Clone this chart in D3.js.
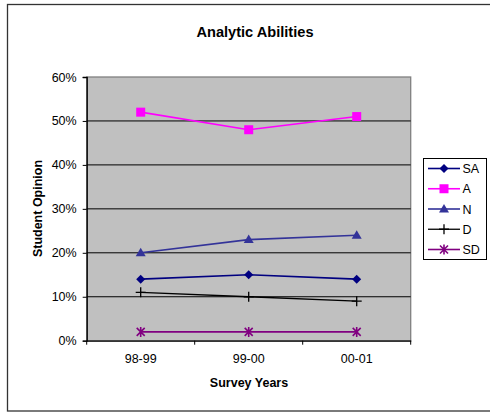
<!DOCTYPE html>
<html><head><meta charset="utf-8">
<script src="https://cdn.jsdelivr.net/npm/d3@7"></script>
<style>body{margin:0;background:#fff}svg{display:block}text{font-family:"Liberation Sans",Arial,sans-serif}</style>
</head><body><svg id="c" width="490" height="412"></svg>
<script>
const categories = ["98-99","99-00","00-01"];
const seriesNames = ["SA","A","N","D","SD"];
const SA = [14,15,14];
const A = [52,48,51];
const N = [20,23,24];
const D = [11,10,9];
const SD = [2,2,2];
const yTicks = [0,10,20,30,40,50,60];
const colors = {SA:"#000080",A:"#FF00FF",N:"#333399",D:"#000000",SD:"#800080"};
const values = {SA,A,N,D,SD};
const FS = 12.5;

const svg = d3.select("#c");
svg.append("rect").attr("x",7.5).attr("y",4.5).attr("width",495).attr("height",406.5)
  .attr("fill","#fff").attr("stroke","#333").attr("stroke-width",1.3);

const L=86.7,R=410.7,T=77,B=340.7;
const x = d3.scaleBand().domain(categories).range([L,R]);
const y = d3.scaleLinear().domain([0,60]).range([B,T]);

svg.append("rect").attr("x",L).attr("y",T).attr("width",R-L).attr("height",B-T)
  .attr("fill","#C0C0C0").attr("stroke","#808080").attr("stroke-width",1.3);

// gridlines
svg.append("g").selectAll("line").data(yTicks.filter(d=>d>0&&d<60)).join("line")
  .attr("x1",L).attr("x2",R).attr("y1",d=>y(d)).attr("y2",d=>y(d))
  .attr("stroke","#000").attr("stroke-width",1);

// y axis
const ya = svg.append("g").attr("transform",`translate(${L},0)`)
  .call(d3.axisLeft(y).tickValues(yTicks).tickFormat(d=>d+"%").tickSize(4).tickPadding(6));
ya.attr("font-size",null).attr("font-family",null);
ya.select(".domain").attr("stroke","#000").attr("stroke-width",1.3);
ya.selectAll("text").attr("font-size",FS).attr("fill","#000");

// x axis
const xa = svg.append("g").attr("transform",`translate(0,${B})`)
  .call(d3.axisBottom(x).tickSize(0).tickPadding(13));
xa.attr("font-size",null).attr("font-family",null);
xa.select(".domain").attr("stroke","#000").attr("stroke-width",1.3);
xa.selectAll("text").attr("font-size",FS).attr("fill","#000");
// tick marks at band boundaries
const bounds = categories.map(c=>x(c)).concat([x(categories[categories.length-1])+x.bandwidth()]);
svg.append("g").selectAll("line").data(bounds).join("line")
  .attr("x1",d=>d).attr("x2",d=>d).attr("y1",B).attr("y2",B+4)
  .attr("stroke","#000").attr("stroke-width",1);

// markers
function marker(g, name, cx, cy){
  const c = colors[name];
  if(name==="SA"){
    g.append("path").attr("d",`M${cx},${cy-4.5}L${cx+4.5},${cy}L${cx},${cy+4.5}L${cx-4.5},${cy}Z`).attr("fill",c);
  } else if(name==="A"){
    g.append("rect").attr("x",cx-4.5).attr("y",cy-4.5).attr("width",9).attr("height",9).attr("fill",c);
  } else if(name==="N"){
    g.append("path").attr("d",`M${cx},${cy-5}L${cx+5},${cy+3.5}L${cx-5},${cy+3.5}Z`).attr("fill",c);
  } else if(name==="D"){
    g.append("path").attr("d",`M${cx-5},${cy}H${cx+5}M${cx},${cy-5}V${cy+5}`).attr("stroke",c).attr("stroke-width",1.3).attr("fill","none");
  } else if(name==="SD"){
    g.append("path").attr("d",`M${cx-4},${cy-4}L${cx+4},${cy+4}M${cx-4},${cy+4}L${cx+4},${cy-4}M${cx},${cy-5}V${cy+5}`)
      .attr("stroke",c).attr("stroke-width",1.6).attr("fill","none");
  }
}

const cx = c => x(c)+x.bandwidth()/2;
const line = d3.line().x((d,i)=>cx(categories[i])).y(d=>y(d));
seriesNames.forEach(name=>{
  const g = svg.append("g");
  g.append("path").attr("d",line(values[name])).attr("fill","none")
    .attr("stroke",colors[name]).attr("stroke-width",name==="D"?1.3:1.6);
  values[name].forEach((v,i)=>marker(g,name,cx(categories[i]),y(v)));
});

// titles
svg.append("text").attr("x",255).attr("y",36.5).attr("text-anchor","middle")
  .attr("font-size",14.6).attr("font-weight","bold").text("Analytic Abilities");
svg.append("text").attr("x",249).attr("y",386.5).attr("text-anchor","middle")
  .attr("font-size",FS).attr("font-weight","bold").text("Survey Years");
svg.append("text").attr("transform","translate(41.5,208.5) rotate(-90)").attr("text-anchor","middle")
  .attr("font-size",FS).attr("font-weight","bold").text("Student Opinion");

// legend
const lg = svg.append("g");
lg.append("rect").attr("x",423.5).attr("y",158.5).attr("width",63).attr("height",101)
  .attr("fill","#fff").attr("stroke","#000").attr("stroke-width",1);
seriesNames.forEach((name,i)=>{
  const ly = 168.5 + i*20.25;
  lg.append("line").attr("x1",428).attr("x2",460).attr("y1",ly).attr("y2",ly)
    .attr("stroke",colors[name]).attr("stroke-width",name==="D"?1.3:1.6);
  marker(lg,name,444,ly);
  lg.append("text").attr("x",462.5).attr("y",ly+4.5).attr("font-size",FS).text(name);
});
</script></body></html>
